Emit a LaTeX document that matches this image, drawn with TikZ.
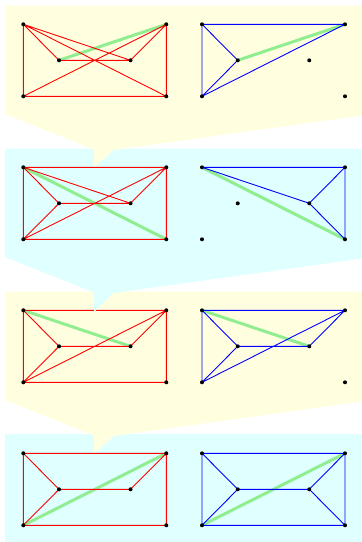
\documentclass[tikz,border=0pt]{standalone}
\definecolor{bgyel}{RGB}{255,255,224}
\definecolor{bgcyan}{RGB}{224,255,255}
\definecolor{hlgreen}{RGB}{144,238,144}
\tikzset{
  vdot/.style={circle,fill=black,inner sep=0pt,minimum size=4pt},
  redge/.style={red,line width=0.9pt},
  bedge/.style={blue,line width=0.9pt},
  gedge/.style={hlgreen,line width=3pt},
}
% vertices of one graph: prefix, x origin, y origin
\newcommand\mkverts[3]{%
  \coordinate (#1A) at (#2,#3);
  \coordinate (#1B) at (#2+143,#3);
  \coordinate (#1C) at (#2+35.75,#3+36);
  \coordinate (#1D) at (#2+107.25,#3+36);
  \coordinate (#1E) at (#2,#3+72);
  \coordinate (#1F) at (#2+143,#3+72);
}
\newcommand\mkdots[1]{%
  \foreach \v in {A,B,C,D,E,F}{\node[vdot] (#1\v d) at (#1\v) {};}
}
% panel background with callout pointer: colour, dy, tip y (relative)
\newcommand\panelbg[3]{%
  \fill[#1] (5,5.5+#2) -- (362,5.5+#2) -- (362,115.5+#2) -- (113.5,150+#2)
    -- (95,#3+#2) -- (94,#3+#2) -- (94,149.5+#2) -- (5,114+#2) -- cycle;
}
\begin{document}
\begin{tikzpicture}[x=1pt,y=-1pt]
\useasboundingbox (0,0) rectangle (362,542);
% ---------- panel 4 ----------
\fill[bgcyan] (5,434.3) rectangle (362,542);
\mkverts{QL}{23.3}{453.3}
\mkverts{QR}{202}{453.3}
\draw[gedge] (QLE) -- (QLB);
\draw[redge] (QLA) -- (QLB) (QLA) -- (QLE) (QLB) -- (QLF) (QLE) -- (QLF)
  (QLA) -- (QLC) (QLC) -- (QLD) (QLC) -- (QLE) (QLD) -- (QLB);
\draw[gedge] (QRE) -- (QRB);
\draw[bedge] (QRA) -- (QRB) (QRA) -- (QRE) (QRB) -- (QRF) (QRE) -- (QRF)
  (QRA) -- (QRC) (QRC) -- (QRE) (QRC) -- (QRD) (QRD) -- (QRB) (QRD) -- (QRF);
\mkdots{QL}\mkdots{QR}
% ---------- panel 3 ----------
\panelbg{bgyel}{286}{166.6}
\mkverts{TL}{23.3}{310.3}
\mkverts{TR}{202}{310.3}
\draw[gedge] (TLA) -- (TLD);
\draw[redge] (TLA) -- (TLB) (TLA) -- (TLE) (TLB) -- (TLF) (TLE) -- (TLF)
  (TLA) -- (TLC) (TLC) -- (TLD) (TLC) -- (TLE) (TLE) -- (TLB) (TLD) -- (TLB);
\draw[gedge] (TRA) -- (TRD);
\draw[bedge] (TRA) -- (TRB) (TRA) -- (TRE) (TRA) -- (TRC) (TRC) -- (TRD)
  (TRC) -- (TRE) (TRE) -- (TRB) (TRD) -- (TRB);
\mkdots{TL}\mkdots{TR}
% ---------- panel 2 ----------
\panelbg{bgcyan}{143}{168}
\mkverts{SL}{23.3}{167.3}
\mkverts{SR}{202}{167.3}
\draw[gedge] (SLA) -- (SLF);
\draw[redge] (SLA) -- (SLB) (SLA) -- (SLE) (SLB) -- (SLF) (SLE) -- (SLF)
  (SLA) -- (SLC) (SLA) -- (SLD) (SLC) -- (SLD) (SLC) -- (SLE) (SLE) -- (SLB) (SLD) -- (SLB);
\draw[gedge] (SRA) -- (SRF);
\draw[bedge] (SRA) -- (SRB) (SRB) -- (SRF) (SRA) -- (SRD) (SRD) -- (SRB) (SRD) -- (SRF);
\mkdots{SL}\mkdots{SR}
% ---------- panel 1 ----------
\panelbg{bgyel}{0}{166.6}
\mkverts{PL}{23.3}{24.3}
\mkverts{PR}{202}{24.3}
\draw[gedge] (PLC) -- (PLB);
\draw[redge] (PLA) -- (PLE) (PLA) -- (PLC) (PLA) -- (PLD) (PLA) -- (PLF)
  (PLB) -- (PLD) (PLB) -- (PLE) (PLB) -- (PLF) (PLC) -- (PLD) (PLE) -- (PLF);
\draw[gedge] (PRC) -- (PRB);
\draw[bedge] (PRA) -- (PRB) (PRA) -- (PRE) (PRA) -- (PRC) (PRC) -- (PRE) (PRE) -- (PRB);
\mkdots{PL}\mkdots{PR}
\end{tikzpicture}
\end{document}
